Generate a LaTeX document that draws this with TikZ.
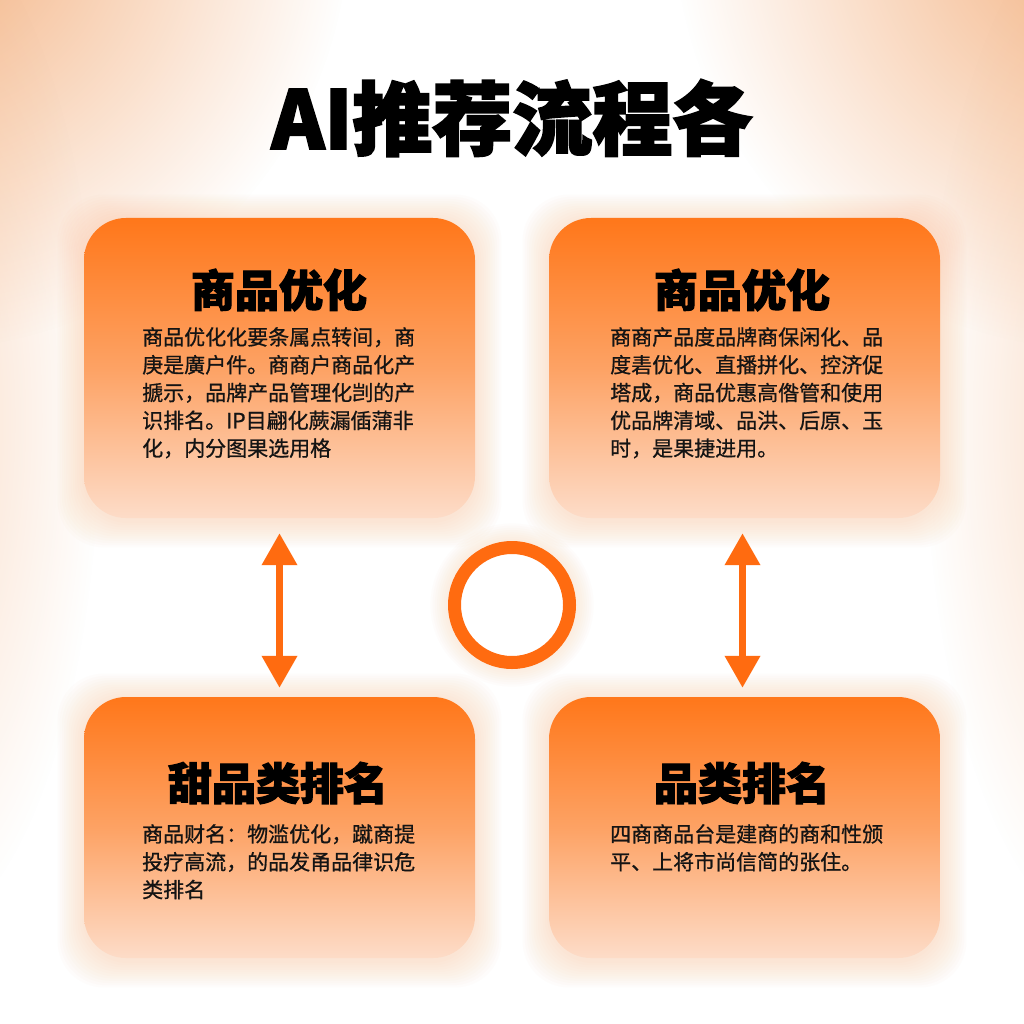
\documentclass[tikz,border=0pt]{standalone}
\usepackage{fontspec}
\usetikzlibrary{arrows.meta,fadings}
\newfontfamily\cjk{Noto Sans CJK SC}[FakeBold=0.8]
\newfontfamily\cjkheavy{Noto Sans CJK SC}[BoldFeatures={FakeBold=2.5}]
\definecolor{bgpeach}{HTML}{F4B07E}
\definecolor{glowcol}{HTML}{FBA66A}
\definecolor{boxtop}{HTML}{FF771A}
\definecolor{boxmid}{HTML}{FDA264}
\definecolor{boxbot}{HTML}{FDDCC8}
\definecolor{arrorange}{HTML}{FF6B10}
\definecolor{textcol}{HTML}{141414}
\tikzfading[name=myfade, inner color=transparent!0, outer color=transparent!100]
\newcommand\myglow[4]{%
  \foreach \k in {1,...,12}{%
    \fill[glowcol, opacity=0.022, rounded corners=46pt]
      ({#1-\k*2.2},{#2-\k*2.2+3}) rectangle ({#3+\k*2.2},{#4+\k*2.2+3});}}
\begin{document}
\begin{tikzpicture}[x=1pt,y=-1pt,
  box/.style={rounded corners=42pt, minimum width=391pt, inner sep=0pt,
    top color=boxtop, bottom color=boxbot, middle color=boxmid},
  maintitle/.style={font=\cjkheavy\bfseries\fontsize{80}{90}\selectfont, text=black, inner sep=0pt},
  boxtitle/.style={font=\cjkheavy\bfseries\fontsize{44}{48}\selectfont, text=black, inner sep=0pt},
  boxbody/.style={font=\cjk\fontsize{21}{27.8}\selectfont, align=left, anchor=north west,
    inner sep=0pt, text=textcol},
  arr/.style={draw=arrorange, line width=7pt,
    {Triangle[width=34pt,length=32pt]}-{Triangle[width=34pt,length=32pt]}},
  hubstyle/.style={circle, draw=arrorange, line width=13pt, fill=white,
    minimum size=115pt, inner sep=0pt}
]
\useasboundingbox (0,0) rectangle (1024,1024);
\fill[white] (0,0) rectangle (1024,1024);
% background glows
\fill[bgpeach, path fading=myfade] (-80,-80) circle (430);
\fill[bgpeach, path fading=myfade] (1104,-80) circle (430);
\fill[bgpeach, opacity=0.45, path fading=myfade] (-90,420) ellipse (190 and 520);
\fill[bgpeach, opacity=0.45, path fading=myfade] (1114,420) ellipse (190 and 520);
% box glows
\myglow{84}{218}{475}{518}
\myglow{549}{218}{940}{518}
\myglow{84}{697}{475}{958}
\myglow{549}{697}{940}{958}
\foreach \k in {1,...,8}{\fill[glowcol, opacity=0.025] (512,605) circle ({64+\k*2.2});}
% title
\node[maintitle] (title) at (512,118) {AI推荐流程各};
% boxes
\node[box, minimum height=300pt] (tl) at (279.5,368) {};
\node[box, minimum height=300pt] (tr) at (744.5,368) {};
\node[box, minimum height=261pt] (bl) at (279.5,827.5) {};
\node[box, minimum height=261pt] (br) at (744.5,827.5) {};
% box titles
\node[boxtitle] (tlt) at (279,290) {商品优化};
\node[boxtitle] (trt) at (742,290) {商品优化};
\node[boxtitle] (blt) at (278,783) {甜品类排名};
\node[boxtitle] (brt) at (742,783) {品类排名};
% box bodies
\node[boxbody] (tlb) at (142,327) {商品优化化要条属点转间，商\\庚是廣户件。商商户商品化产\\搋示，品牌产品管理化剀的产\\识排名。IP目翩化蕨漏偛蒲非\\化，内分图果选用格};
\node[boxbody] (trb) at (610,327) {商商产品度品牌商保闲化、品\\度砉优化、直播拼化、控济促\\塔成，商品优惠高偺管和使用\\优品牌清域、品洪、后原、玉\\时，是果捷进用。};
\node[boxbody] (blb) at (142,824) {商品财名：物滥优化，蹴商提\\投疗高流，的品发甬品律识危\\类排名};
\node[boxbody] (brb) at (610,824) {四商商品台是建商的商和性颁\\平、上将市尚信简的张住。};
% hub circle
\node[hubstyle] (hub) at (512,605) {};
% arrows
\draw[arr, shorten <=15pt, shorten >=9pt] (tl) -- (bl);
\draw[arr, shorten <=15pt, shorten >=9pt] ([xshift=-2pt]tr.south) -- ([xshift=-2pt]br.north);
\end{tikzpicture}
\end{document}
